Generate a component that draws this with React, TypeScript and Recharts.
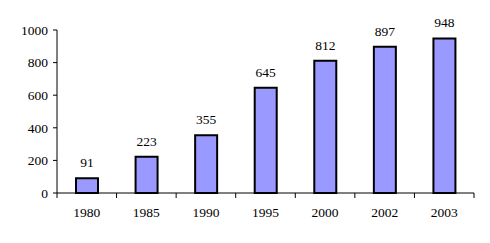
import { BarChart, Bar, XAxis, YAxis, LabelList } from "recharts";

const years = ["1980", "1985", "1990", "1995", "2000", "2002", "2003"];
const values = [91, 223, 355, 645, 812, 897, 948];
const yTicks = [0, 200, 400, 600, 800, 1000];

const data = years.map((year, i) => ({ year, value: values[i] }));

const FONT = "Liberation Serif";

// category tick: label at the centre, tick marks on the category boundaries
function YearTick(props: any) {
  const { x, y, payload, index } = props;
  const half = payload.offset || 0;
  const last = index === years.length - 1;
  return (
    <g>
      <line x1={x - half} x2={x - half} y1={y} y2={y + 5} stroke="#000" />
      {last && <line x1={x + half} x2={x + half} y1={y} y2={y + 5} stroke="#000" />}
      <text
        x={x}
        y={y + 24}
        textAnchor="middle"
        fill="#000"
        style={{ fontFamily: FONT, fontSize: 13.5 }}
      >
        {payload.value}
      </text>
    </g>
  );
}

export default function App() {
  return (
    <div style={{ position: "absolute", left: 0, top: 0, background: "#fff", fontFamily: FONT }}>
      <BarChart
        width={490}
        height={243}
        data={data}
        margin={{ top: 30, right: 16, bottom: 0, left: 0 }}
        style={{ fontFamily: FONT }}
      >
        <XAxis
          dataKey="year"
          height={50}
          axisLine={{ stroke: "#000" }}
          tickLine={false}
          tickSize={0}
          tickMargin={0}
          interval={0}
          tick={<YearTick />}
        />
        <YAxis
          width={57}
          domain={[0, 1000]}
          ticks={yTicks}
          interval={0}
          axisLine={{ stroke: "#000" }}
          tickLine={{ stroke: "#000" }}
          tickSize={4}
          tickMargin={5}
          tick={{ fill: "#000", fontSize: 13.5, style: { fontFamily: FONT } }}
        />
        <Bar
          dataKey="value"
          fill="#9999FF"
          stroke="#000"
          strokeWidth={2}
          barSize={22}
          isAnimationActive={false}
        >
          <LabelList
            dataKey="value"
            position="top"
            offset={11}
            fill="#000"
            fontSize={13.5}
            style={{ fontFamily: FONT }}
          />
        </Bar>
      </BarChart>
    </div>
  );
}
